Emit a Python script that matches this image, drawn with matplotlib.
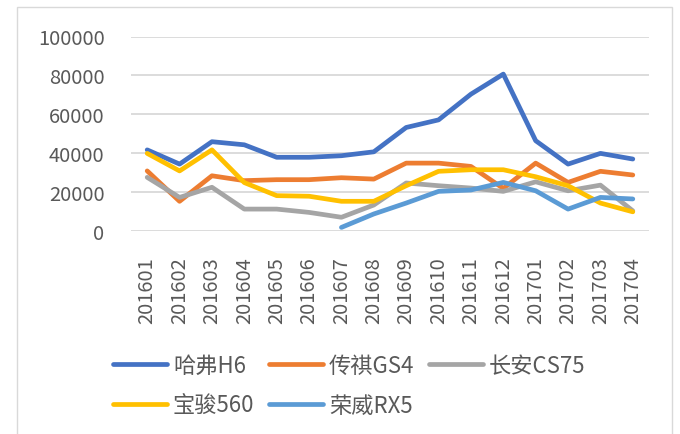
import numpy as np
import matplotlib
matplotlib.use("Agg")
import matplotlib.pyplot as plt
from matplotlib.patches import Rectangle

plt.rcParams['font.family'] = ['Noto Sans CJK SC', 'DejaVu Sans']

months = ["201601", "201602", "201603", "201604", "201605", "201606", "201607", "201608",
          "201609", "201610", "201611", "201612", "201701", "201702", "201703", "201704"]

haval_h6 = [41800, 34500, 46000, 44400, 38000, 38000, 38800, 40800,
            53300, 57200, 70400, 80700, 46500, 34500, 40000, 37100]
gs4 = [31000, 15400, 28500, 26000, 26500, 26500, 27500, 26800,
       35000, 35000, 33300, 22000, 35000, 25100, 30800, 28900]
cs75 = [27700, 17400, 22600, 11400, 11400, 9700, 7200, 13500,
        24800, 23400, 22200, 20500, 25400, 20800, 23700, 10500]
baojun560 = [40000, 31000, 41800, 25000, 18300, 18000, 15400, 15400,
             23400, 30800, 31600, 31600, 28000, 23400, 14500, 10000]
rx5 = [np.nan] * 6 + [2000, 8900, 14500, 20500, 21200, 25100, 20800, 11400, 17400, 16600]

series = [
    ("哈弗H6", haval_h6, "#4472C4"),
    ("传祺GS4", gs4, "#ED7D31"),
    ("长安CS75", cs75, "#A5A5A5"),
    ("宝骏560", baojun560, "#FFC000"),
    ("荣威RX5", rx5, "#5B9BD5"),
]

fig = plt.figure(figsize=(6.8, 4.35), dpi=100)
ax = fig.add_axes([131 / 680, 1 - 232.3 / 435, 518 / 680, (232.3 - 37.5) / 435])

x = np.arange(len(months))
lines = []
for name, vals, col in series:
    ln, = ax.plot(x, vals, color=col, lw=3.4, label=name, solid_capstyle='round', solid_joinstyle='round')
    lines.append(ln)

ax.set_xlim(-0.5, len(months) - 0.5)
ax.set_ylim(0, 100000)
ax.set_yticks(np.arange(0, 100001, 20000))
ax.set_xticks(x)
ax.set_xticklabels(months, rotation=90)
ax.tick_params(axis='both', length=0, labelsize=14.5, labelcolor='#595959')
ax.tick_params(axis='y', pad=19)
ax.tick_params(axis='x', pad=18)
for s in ax.spines.values():
    s.set_visible(False)
ax.grid(axis='y', color='#D9D9D9', lw=1.3)
ax.set_axisbelow(True)

# legend fills column by column, so reorder to read row by row
order = [0, 3, 1, 4, 2]
leg = fig.legend([lines[i] for i in order], [series[i][0] for i in order],
                 loc='upper left', bbox_to_anchor=(93 / 680, 1 - 335 / 435), ncol=3,
                 frameon=False, fontsize=16, handlelength=2.45, handletextpad=0.25,
                 columnspacing=0.65, labelspacing=0.75)
for t in leg.get_texts():
    t.set_color('#595959')
for h in leg.get_lines():
    h.set_linewidth(3.4)
    h.set_solid_capstyle('round')

fig.patches.append(Rectangle((17 / 680, -0.05), (672 - 17) / 680, 1.05 - 8 / 435,
                             transform=fig.transFigure, fill=False, edgecolor='#D9D9D9', lw=1))

fig.savefig("out.png", dpi=100, facecolor='white')
